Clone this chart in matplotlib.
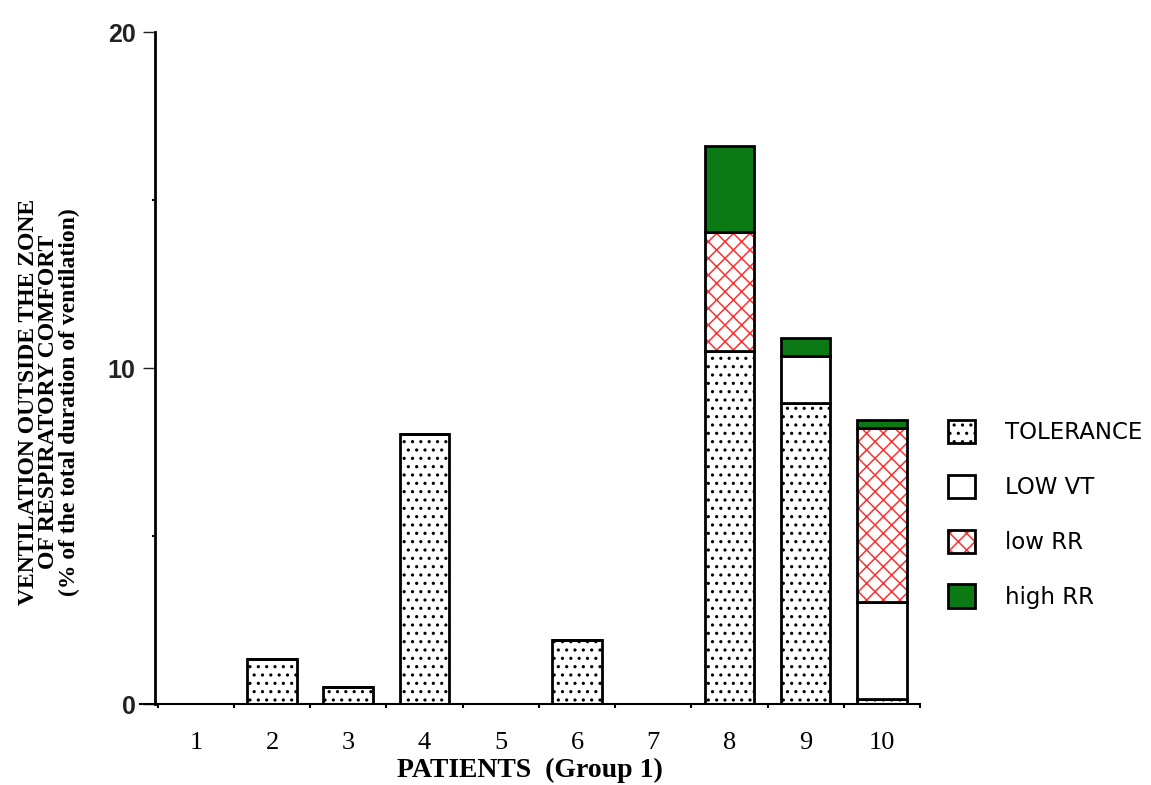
import numpy as np
import matplotlib
matplotlib.use('Agg')
import matplotlib.pyplot as plt
import matplotlib.patches as mpatches

patients = ['1', '2', '3', '4', '5', '6', '7', '8', '9', '10']
tolerance = [0, 1.35, 0.5, 8.05, 0, 1.9, 0, 10.5, 8.95, 0.15]
low_vt = [0, 0, 0, 0, 0, 0, 0, 0, 1.4, 2.9]
low_rr = [0, 0, 0, 0, 0, 0, 0, 3.55, 0, 5.15]
high_rr = [0, 0, 0, 0, 0, 0, 0, 2.55, 0.55, 0.25]
labels = ['TOLERANCE', 'LOW VT', 'low RR', 'high RR']
yticks = [0, 10, 20]

GREEN = '#0b7a14'
RED = '#ff3030'
W = 0.65

plt.rcParams['hatch.linewidth'] = 1.1

fig = plt.figure(figsize=(11.51, 7.85), dpi=100)
ax = fig.add_axes([140 / 1151, 1 - 704 / 785, 780 / 1151, 672 / 785])

x = np.arange(1, len(patients) + 1)
tol = np.array(tolerance)
vt = np.array(low_vt)
lrr = np.array(low_rr)
hrr = np.array(high_rr)

ax.bar(x, tol, W, color='white', edgecolor='black', hatch='..', linewidth=0)
ax.bar(x, tol, W, fill=False, edgecolor='black', linewidth=2)
ax.bar(x, vt, W, bottom=tol, color='white', edgecolor='black', linewidth=2)
ax.bar(x, lrr, W, bottom=tol + vt, color='white', edgecolor=RED, hatch='xx', linewidth=0)
ax.bar(x, lrr, W, bottom=tol + vt, fill=False, edgecolor='black', linewidth=2)
ax.bar(x, hrr, W, bottom=tol + vt + lrr, color=GREEN, edgecolor='black', linewidth=2)

ax.set_xlim(0.268, 10.47)
ax.set_ylim(0, 20)

for s in ['top', 'right']:
    ax.spines[s].set_visible(False)
ax.spines['left'].set_position(('data', 0.464))
ax.spines['left'].set_linewidth(2)
ax.spines['bottom'].set_linewidth(1.5)

ax.set_yticks(yticks)
ax.set_yticklabels([str(v) for v in yticks], fontfamily='Liberation Sans',
                   fontweight='bold', fontsize=18, color='#222222')
ax.set_yticks([5, 15], minor=True)
ax.tick_params(axis='y', which='major', length=9, width=1, pad=5, color='#222222')
ax.tick_params(axis='y', which='minor', length=2, width=1.5)

ax.set_xticks(x)
ax.set_xticklabels(patients, fontfamily='Liberation Serif', fontsize=19)
ax.set_xticks(np.arange(0.5, 11, 1), minor=True)
ax.tick_params(axis='x', which='major', length=0, pad=20)
ax.tick_params(axis='x', which='minor', length=3, width=1.5)

ax.set_xlabel('PATIENTS  (Group 1)', fontfamily='Liberation Serif',
              fontweight='bold', fontsize=20, labelpad=3)

fig.text(49 / 1151, 1 - 402 / 785,
         'VENTILATION OUTSIDE THE ZONE\nOF RESPIRATORY COMFORT\n'
         '(% of the total duration of ventilation)',
         rotation=90, ha='center', va='center', multialignment='center',
         fontfamily='Liberation Serif', fontweight='bold', fontsize=17,
         linespacing=0.95)

h_tol = (mpatches.Rectangle((0, 0), 1, 1, facecolor='white', edgecolor='black', hatch='..', linewidth=0),
         mpatches.Rectangle((0, 0), 1, 1, fill=False, edgecolor='black', linewidth=2))
h_vt = mpatches.Rectangle((0, 0), 1, 1, facecolor='white', edgecolor='black', linewidth=2)
h_lrr = (mpatches.Rectangle((0, 0), 1, 1, facecolor='white', edgecolor=RED, hatch='xx', linewidth=0),
         mpatches.Rectangle((0, 0), 1, 1, fill=False, edgecolor='black', linewidth=2))
h_hrr = mpatches.Rectangle((0, 0), 1, 1, facecolor=GREEN, edgecolor='black', linewidth=2)

fs = 16.5
fpx = fs * 100 / 72
fig.legend([h_tol, h_vt, h_lrr, h_hrr], labels,
           loc='upper left', bbox_to_anchor=(948 / 1151, 1 - 420 / 785),
           bbox_transform=fig.transFigure, frameon=False,
           prop={'family': 'DejaVu Sans', 'size': fs},
           handlelength=27 / fpx, handleheight=27 / fpx,
           labelspacing=30.5 / fpx, handletextpad=30 / fpx,
           borderpad=0, borderaxespad=0)

fig.savefig('out.png', dpi=100)
